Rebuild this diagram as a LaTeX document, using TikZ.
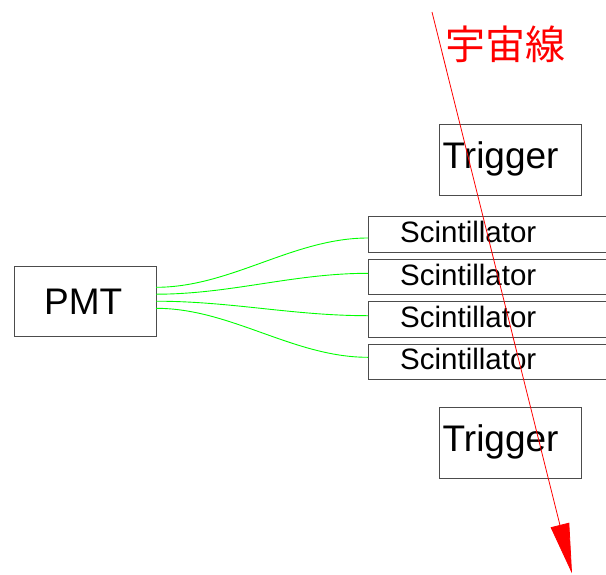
\documentclass[tikz,border=0pt]{standalone}
\usepackage{fontspec}
\setmainfont{Liberation Sans}
\newfontfamily\jpfont{Noto Sans CJK JP}
\usetikzlibrary{arrows.meta}
\begin{document}
\begin{tikzpicture}[x=1pt,y=-1pt,
  boxstyle/.style={draw=black!70, line width=1pt, fill=none, inner sep=0pt, anchor=north west},
  bigtext/.style={inner sep=0pt, anchor=base west, font=\fontsize{37}{40}\selectfont},
  scinttext/.style={inner sep=0pt, anchor=base west, font=\fontsize{29.5}{32}\selectfont},
  fibre/.style={draw=green, line width=0.9pt},
  ray/.style={draw=red, line width=0.8pt, -{Triangle[length=50pt,width=19pt]}}]
\path[use as bounding box] (0,0) rectangle (606,574);

% photomultiplier
\node[boxstyle, minimum width=142pt, minimum height=70pt] (pmt) at (14,266) {};
\node[bigtext] (pmtt) at (44,314.3) {PMT};

% trigger counters
\node[boxstyle, minimum width=142pt, minimum height=70.5pt] (trigA) at (438.5,124.3) {};
\node[bigtext] (trigAt) at (442.5,168.3) {Trigger};
\node[boxstyle, minimum width=142pt, minimum height=70.5pt] (trigB) at (438.5,407.3) {};
\node[bigtext] (trigBt) at (442.5,451.3) {Trigger};

% scintillator plates (running off the right edge)
\node[boxstyle, minimum width=250pt, minimum height=36pt] (s1) at (368,216) {};
\node[scinttext] (s1t) at (400,242.7) {Scintillator};
\node[boxstyle, minimum width=250pt, minimum height=35pt] (s2) at (368,259) {};
\node[scinttext] (s2t) at (400,285.2) {Scintillator};
\node[boxstyle, minimum width=250pt, minimum height=36pt] (s3) at (368,301) {};
\node[scinttext] (s3t) at (400,327.5) {Scintillator};
\node[boxstyle, minimum width=250pt, minimum height=35pt] (s4) at (368,344) {};
\node[scinttext] (s4t) at (400,369.8) {Scintillator};

% fibre end points
\coordinate (p1) at (156,287.3);
\coordinate (p2) at (156,294.2);
\coordinate (p3) at (156,301.2);
\coordinate (p4) at (156,308.3);
\coordinate (e1) at (368,238);
\coordinate (e2) at (368,273.3);
\coordinate (e3) at (368,315.7);
\coordinate (e4) at (368,357.3);

% light guides from the plates to the PMT
\draw[fibre] (p1) .. controls +(75,0) and +(-75,0) .. (e1);
\draw[fibre] (p2) .. controls +(75,0) and +(-75,0) .. (e2);
\draw[fibre] (p3) .. controls +(75,0) and +(-75,0) .. (e3);
\draw[fibre] (p4) .. controls +(75,0) and +(-75,0) .. (e4);

% cosmic ray track
\coordinate (rayin) at (432,12);
\coordinate (rayout) at (572,573.5);
\draw[ray] (rayin) -- (rayout);
\node[inner sep=0pt, text=red, font=\jpfont\fontsize{40}{44}\selectfont] (raylabel) at (505,44) {宇宙線};
\end{tikzpicture}
\end{document}
